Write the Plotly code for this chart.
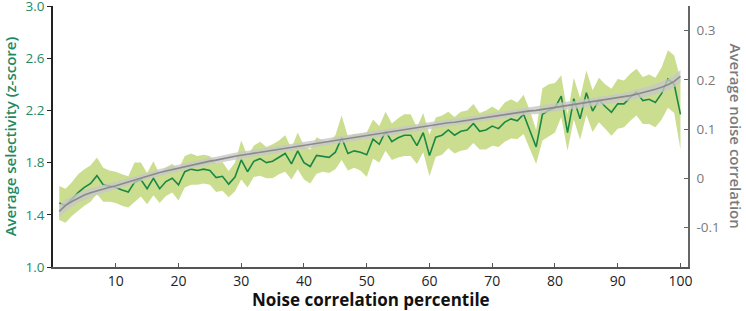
import numpy as np
import plotly.graph_objects as go

percentile = list(range(1, 101))

selectivity = [
    1.49, 1.47, 1.52, 1.57, 1.61, 1.64, 1.70, 1.63, 1.62, 1.61,
    1.59, 1.575, 1.65, 1.67, 1.60, 1.68, 1.60, 1.655, 1.68, 1.63,
    1.73, 1.75, 1.74, 1.75, 1.74, 1.685, 1.695, 1.635, 1.69, 1.82,
    1.73, 1.81, 1.83, 1.80, 1.81, 1.84, 1.87, 1.79, 1.89, 1.80,
    1.77, 1.855, 1.85, 1.84, 1.88, 1.99, 1.87, 1.89, 1.88, 1.86,
    1.98, 1.94, 2.04, 1.96, 1.99, 2.01, 2.01, 1.93, 2.03, 1.855,
    1.995, 2.01, 2.05, 2.01, 2.04, 2.05, 2.10, 2.04, 2.05, 2.08,
    2.06, 2.11, 2.135, 2.12, 2.17, 2.05, 1.92, 2.17, 2.20, 2.22,
    2.31, 2.03, 2.29, 2.135, 2.335, 2.195, 2.28, 2.23, 2.186, 2.25,
    2.25, 2.30, 2.34, 2.275, 2.285, 2.26, 2.33, 2.44, 2.40, 2.17,
]

selectivity_err = [
    0.13, 0.13, 0.13, 0.14, 0.14, 0.14, 0.14, 0.13, 0.12, 0.12,
    0.12, 0.12, 0.15, 0.13, 0.12, 0.13, 0.11, 0.11, 0.11, 0.12,
    0.12, 0.12, 0.11, 0.11, 0.11, 0.11, 0.11, 0.10, 0.11, 0.15,
    0.12, 0.12, 0.13, 0.12, 0.13, 0.13, 0.14, 0.12, 0.14, 0.13,
    0.13, 0.14, 0.12, 0.12, 0.13, 0.17, 0.13, 0.13, 0.14, 0.17,
    0.15, 0.14, 0.15, 0.14, 0.15, 0.16, 0.16, 0.14, 0.15, 0.16,
    0.15, 0.15, 0.14, 0.14, 0.15, 0.15, 0.15, 0.14, 0.15, 0.15,
    0.14, 0.15, 0.15, 0.14, 0.15, 0.15, 0.13, 0.20, 0.20, 0.19,
    0.16, 0.14, 0.16, 0.16, 0.17, 0.16, 0.17, 0.17, 0.18, 0.19,
    0.18, 0.18, 0.18, 0.18, 0.19, 0.19, 0.20, 0.22, 0.22, 0.27,
]

noise_corr = [
    -0.067, -0.055, -0.047, -0.040, -0.034, -0.029, -0.025, -0.021, -0.018, -0.015,
    -0.011, -0.007, -0.003, 0.001, 0.005, 0.008, 0.012, 0.015, 0.018, 0.021,
    0.024, 0.027, 0.030, 0.032, 0.035, 0.037, 0.040, 0.042, 0.045, 0.047,
    0.049, 0.052, 0.054, 0.056, 0.058, 0.060, 0.062, 0.064, 0.066, 0.068,
    0.070, 0.072, 0.074, 0.076, 0.078, 0.080, 0.082, 0.084, 0.086, 0.088,
    0.090, 0.092, 0.094, 0.096, 0.098, 0.100, 0.101, 0.103, 0.105, 0.107,
    0.109, 0.111, 0.113, 0.114, 0.116, 0.118, 0.120, 0.122, 0.124, 0.126,
    0.127, 0.129, 0.131, 0.133, 0.135, 0.137, 0.138, 0.140, 0.142, 0.144,
    0.146, 0.148, 0.149, 0.151, 0.153, 0.155, 0.157, 0.159, 0.161, 0.163,
    0.165, 0.168, 0.171, 0.174, 0.177, 0.181, 0.185, 0.190, 0.197, 0.207,
]

noise_err = [
    0.013, 0.012, 0.011, 0.010, 0.010, 0.009, 0.009, 0.008, 0.008, 0.008,
    0.008, 0.007, 0.007, 0.007, 0.007, 0.007, 0.007, 0.007, 0.007, 0.007,
    0.007, 0.007, 0.007, 0.007, 0.007, 0.007, 0.007, 0.007, 0.007, 0.007,
    0.007, 0.007, 0.007, 0.007, 0.007, 0.007, 0.007, 0.007, 0.007, 0.007,
    0.007, 0.007, 0.007, 0.007, 0.007, 0.007, 0.007, 0.007, 0.007, 0.007,
    0.007, 0.007, 0.007, 0.007, 0.007, 0.007, 0.007, 0.007, 0.007, 0.007,
    0.007, 0.007, 0.007, 0.007, 0.007, 0.007, 0.007, 0.007, 0.007, 0.007,
    0.007, 0.007, 0.007, 0.007, 0.007, 0.007, 0.008, 0.008, 0.008, 0.008,
    0.008, 0.008, 0.008, 0.008, 0.008, 0.008, 0.008, 0.009, 0.009, 0.009,
    0.009, 0.009, 0.010, 0.010, 0.010, 0.011, 0.011, 0.012, 0.012, 0.013,
]

left_ticks = [1.0, 1.4, 1.8, 2.2, 2.6, 3.0]
right_ticks = [-0.1, 0, 0.1, 0.2, 0.3]
right_ticktext = ["-0.1", "0", "0.1", "0.2", "0.3"]
x_ticks = [10, 20, 30, 40, 50, 60, 70, 80, 90, 100]

GREEN_LINE = "#1a8745"
GREEN_BAND = "#cbde90"
GREEN_TEXT = "#1f8a62"
GRAY_LINE = "#8a8a8a"
GRAY_BAND = "rgba(198,198,198,0.78)"
GRAY_TEXT = "#7a7a7a"
FONT = "Open Sans"

x = np.array(percentile)
sel = np.array(selectivity)
se = np.array(selectivity_err)
nc = np.array(noise_corr)
ne = np.array(noise_err)

fig = go.Figure()

fig.add_trace(go.Scatter(
    x=np.concatenate([x, x[::-1]]),
    y=np.concatenate([sel + se, (sel - se)[::-1]]),
    fill="toself", fillcolor=GREEN_BAND, line=dict(width=0),
    mode="lines", hoverinfo="skip", showlegend=False, yaxis="y"))
fig.add_trace(go.Scatter(
    x=x, y=sel, mode="lines", line=dict(color=GREEN_LINE, width=1.6),
    showlegend=False, yaxis="y"))
fig.add_trace(go.Scatter(
    x=np.concatenate([x, x[::-1]]),
    y=np.concatenate([nc + ne, (nc - ne)[::-1]]),
    fill="toself", fillcolor=GRAY_BAND, line=dict(width=0),
    mode="lines", hoverinfo="skip", showlegend=False, yaxis="y2"))
fig.add_trace(go.Scatter(
    x=x, y=nc, mode="lines", line=dict(color=GRAY_LINE, width=1.6),
    showlegend=False, yaxis="y2"))

fig.update_layout(
    width=746, height=311,
    margin=dict(l=53, r=58, t=6, b=44),
    paper_bgcolor="white", plot_bgcolor="white",
    font=dict(family=FONT),
    xaxis=dict(
        range=[0, 101.2], tickvals=x_ticks, showgrid=False, zeroline=False,
        automargin=False, ticklabeloverflow="allow",
        showline=True, linecolor="#555555", linewidth=1.5,
        ticks="inside", ticklen=4, tickcolor="#555555", tickwidth=1,
        tickfont=dict(size=14, color="#222222", family=FONT),
    ),
    yaxis=dict(
        range=[1.0, 3.0], tickvals=left_ticks, tickformat=".1f",
        showgrid=False, zeroline=False, automargin=False,
        ticklabeloverflow="allow",
        showline=True, linecolor="#222222", linewidth=1.5,
        ticks="outside", ticklen=4, tickcolor="#222222",
        tickfont=dict(size=13.5, color=GREEN_TEXT, family=FONT),
    ),
    yaxis2=dict(
        range=[-0.18, 0.35], tickvals=right_ticks, ticktext=right_ticktext,
        overlaying="y", side="right", showgrid=False, zeroline=False,
        automargin=False, ticklabeloverflow="allow",
        showline=True, linecolor="#666666", linewidth=1.5,
        ticks="inside", ticklen=4, tickcolor="#666666",
        ticklabelstandoff=4,
        tickfont=dict(size=13.5, color=GRAY_TEXT, family=FONT),
    ),
    annotations=[
        dict(text="<b>Noise correlation percentile</b>", xref="paper", yref="paper",
             x=0.5, y=-0.124, xanchor="center", yanchor="middle", showarrow=False,
             font=dict(size=17, color="#111111", family=FONT)),
        dict(text="Average selectivity (z-score)", xref="paper", yref="paper",
             x=-0.068, y=0.5, xanchor="center", yanchor="middle", showarrow=False,
             textangle=-90, font=dict(size=15, color=GREEN_TEXT, family=FONT, weight=600)),
        dict(text="Average noise correlation", xref="paper", yref="paper",
             x=1.077, y=0.5, xanchor="center", yanchor="middle", showarrow=False,
             textangle=90, font=dict(size=15, color=GRAY_TEXT, family=FONT, weight=600)),
    ],
)

fig.write_html(
    "out.html",
    config={"displayModeBar": False},
    post_script="document.body.style.margin='0';document.body.style.padding='0';",
)
